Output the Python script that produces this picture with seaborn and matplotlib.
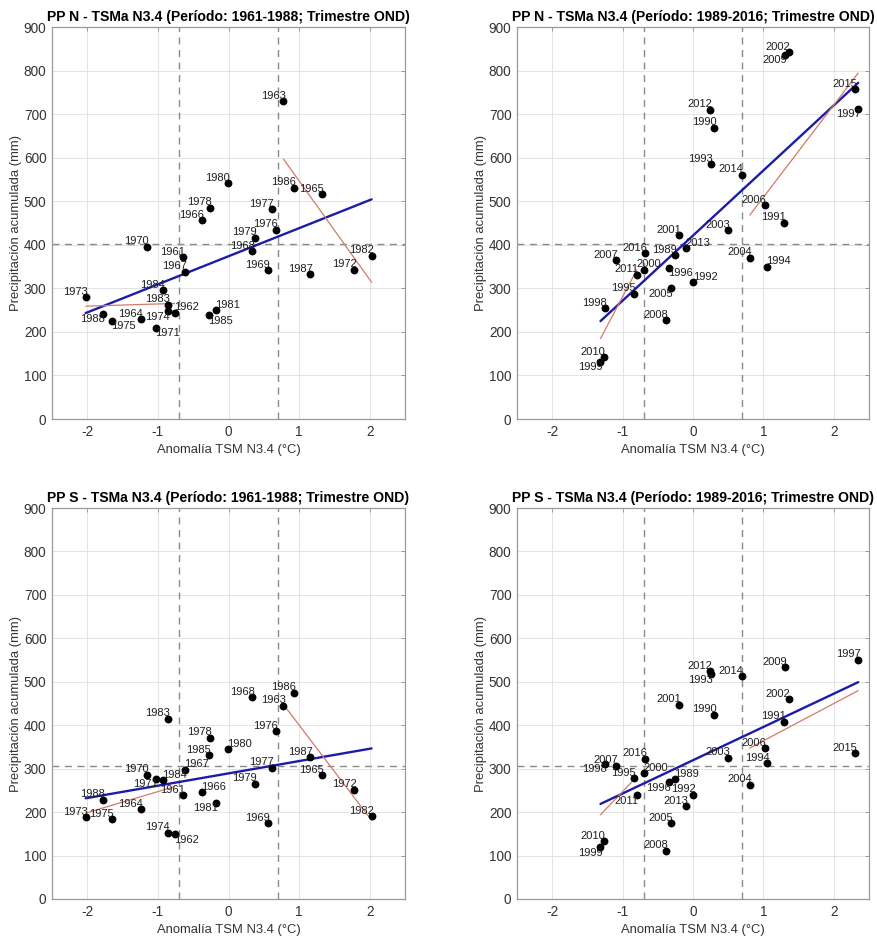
import numpy as np
import pandas as pd
import matplotlib
matplotlib.use("Agg")
import matplotlib.pyplot as plt
import seaborn as sns

sns.set_theme(style="white")
plt.rcParams["font.family"] = ["Liberation Sans", "DejaVu Sans"]
plt.rcParams["axes.unicode_minus"] = False

# ---------------------------------------------------------------------------
# Data: Niño 3.4 SST anomaly (OND) and accumulated precipitation (mm)
# ---------------------------------------------------------------------------
years_a = list(range(1961, 1989))
years_b = list(range(1989, 2017))

tsm_a = [-0.651, -0.764, 0.778, -1.236, 1.324, -0.378, -0.623, 0.339, 0.556, -1.160,
         -1.033, 1.782, -2.023, -0.863, -1.651, 0.673, 0.617, -0.265, 0.372, -0.005,
         -0.184, 2.027, -0.854, -0.934, -0.279, 0.928, 1.160, -1.774]
pp_n_a = [371, 244, 730, 229, 516, 457, 338, 385, 341, 396,
          210, 343, 279, 247, 225, 435, 482, 485, 416, 542,
          250, 375, 262, 296, 238, 531, 332, 242]
pp_s_a = [239, 149, 445, 207, 285, 246, 298, 465, 174, 286,
          277, 252, 188, 153, 183, 386, 302, 371, 265, 345,
          221, 191, 415, 274, 331, 475, 327, 229]

tsm_b = [-0.258, 0.305, 1.290, 0.007, 0.258, 1.054, -0.841, -0.348, 2.346, -1.253,
         -1.314, -0.690, -0.202, 1.357, 0.495, 0.807, -0.315, 1.016, -1.091, -0.386,
         1.304, -1.271, -0.798, 0.244, -0.097, 0.689, 2.299, -0.680]
pp_n_b = [376, 669, 451, 314, 585, 350, 288, 347, 712, 255,
          131, 343, 422, 842, 434, 370, 300, 491, 364, 227,
          836, 142, 331, 710, 392, 561, 757, 381]
pp_s_b = [276, 424, 408, 240, 517, 313, 278, 269, 551, 311,
          119, 289, 447, 460, 325, 263, 175, 347, 307, 111,
          533, 133, 239, 525, 213, 513, 336, 323]

# climatological OND mean (1961-2016) of each region
mean_n = 402
mean_s = 307
# ENSO thresholds (°C)
umbral = 0.7

# ---------------------------------------------------------------------------
# Year-label placement around each dot (default: upper-left)
# ---------------------------------------------------------------------------
lab_pos = {
    ("N", "a"): {1962: "ur", 1974: "ll", 1988: "ll", 1975: "lr", 1971: "lr",
                 1981: "ur", 1985: "lr"},
    ("N", "b"): {2009: "ll", 1997: "ll", 2013: "ur", 1994: "ur", 2000: "uc",
                 1996: "lr", 1992: "ur", 2005: "ll", 1999: "ll"},
    ("S", "a"): {1980: "ur", 1967: "ur", 1971: "ll", 1984: "ur", 1966: "ur",
                 1981: "ll", 1962: "lr"},
    ("S", "b"): {1993: "ll", 1998: "ll", 2000: "ur", 1989: "ur", 1996: "ll",
                 2011: "ll", 1999: "ll"},
}
offsets = {
    "ul": (1.5, 0.3, "right", "bottom"),
    "ll": (1.5, -0.3, "right", "top"),
    "ur": (-0.5, 0.3, "left", "bottom"),
    "lr": (-0.5, -0.3, "left", "top"),
    "uc": (3.0, 0.3, "center", "bottom"),
}

panels = [
    ("N", "a", years_a, tsm_a, pp_n_a, mean_n, "1961-1988"),
    ("N", "b", years_b, tsm_b, pp_n_b, mean_n, "1989-2016"),
    ("S", "a", years_a, tsm_a, pp_s_a, mean_s, "1961-1988"),
    ("S", "b", years_b, tsm_b, pp_s_b, mean_s, "1989-2016"),
]

rects = [
    [0.0593, 0.5533, 0.4025, 0.4179],
    [0.5895, 0.5533, 0.4014, 0.4179],
    [0.0593, 0.0416, 0.4025, 0.4168],
    [0.5895, 0.0416, 0.4014, 0.4168],
]

fig = plt.figure(figsize=(8.77, 9.38), dpi=100)
fig.patch.set_facecolor("white")

edge_gray = "#9a9a9a"
text_gray = "#333333"

for (reg, per, yrs, x, y, ymean, periodo), rect in zip(panels, rects):
    ax = fig.add_axes(rect)
    df = pd.DataFrame({"anio": yrs, "tsm": x, "pp": y})
    nina = df[df["tsm"] < -umbral]
    nino = df[df["tsm"] > umbral]

    # reference lines
    ax.axvline(-umbral, color="#8a8a8a", lw=1.0, ls=(0, (5, 4)), zorder=2)
    ax.axvline(umbral, color="#8a8a8a", lw=1.0, ls=(0, (5, 4)), zorder=2)
    ax.axhline(ymean, color="#8a8a8a", lw=1.0, ls=(0, (5, 4)), zorder=2)

    # linear fits: all years (blue) and La Niña / El Niño years (red)
    sns.regplot(data=df, x="tsm", y="pp", scatter=False, ci=None, truncate=True,
                line_kws=dict(color="#1c1ca8", lw=1.7, zorder=3), ax=ax)
    for sub in (nina, nino):
        sns.regplot(data=sub, x="tsm", y="pp", scatter=False, ci=None, truncate=True,
                    line_kws=dict(color="#d27a6c", lw=0.9, zorder=3), ax=ax)

    sns.scatterplot(data=df, x="tsm", y="pp", color="black", s=32, linewidth=0,
                    zorder=4, ax=ax, legend=False)

    pos = lab_pos[(reg, per)]
    for yr, xv, yv in zip(yrs, x, y):
        dx, dy, ha, va = offsets[pos.get(yr, "ul")]
        ax.annotate(str(yr), (xv, yv), xytext=(dx, dy), textcoords="offset points",
                    ha=ha, va=va, fontsize=8.0, color="#1e1e1e", zorder=5)

    ax.set_xlim(-2.5, 2.5)
    ax.set_ylim(0, 900)
    ax.set_xticks([-2, -1, 0, 1, 2])
    ax.set_yticks(range(0, 901, 100))
    ax.grid(True, color="#e4e4e4", lw=0.7, zorder=0)
    ax.set_axisbelow(True)
    for sp in ax.spines.values():
        sp.set_color(edge_gray)
        sp.set_linewidth(0.9)
    ax.tick_params(direction="in", length=3, width=0.7, color=edge_gray,
                   top=True, right=True, labelsize=9.8, labelcolor=text_gray, pad=4)
    ax.set_xlabel("Anomalía TSM N3.4 (°C)", fontsize=9.4, color=text_gray, labelpad=4)
    ax.set_ylabel("Precipitación acumulada (mm)", fontsize=9.4, color=text_gray, labelpad=1.5)
    ax.set_title(f"PP {reg} - TSMa N3.4 (Período: {periodo}; Trimestre OND)",
                 fontsize=10.1, fontweight="bold", color="black", pad=4)

fig.savefig("out.png", dpi=100, facecolor="white")
